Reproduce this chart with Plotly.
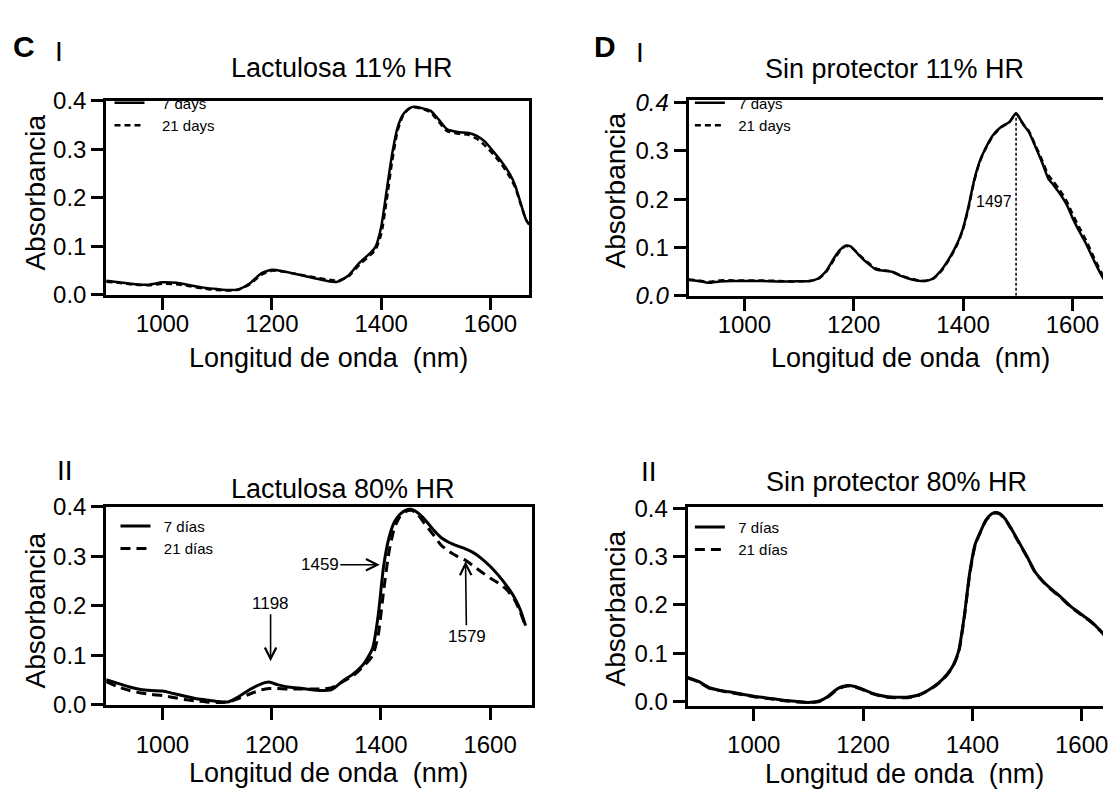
import plotly.graph_objects as go

W, H = 1108, 801
FONT = "Arial, Liberation Sans, sans-serif"

# ---------------- data ----------------
# Panel C-I : Lactulosa 11% HR
ci_nm = [897, 920, 950, 975, 1000, 1025, 1050, 1075, 1100, 1125, 1140, 1160, 1180, 1200, 1220,
         1240, 1260, 1280, 1300, 1320, 1340, 1360, 1380, 1390, 1400, 1410, 1420, 1430, 1440, 1450,
         1460, 1475, 1490, 1505, 1520, 1540, 1560, 1575, 1590, 1605, 1620, 1635, 1645, 1655, 1665, 1671]
ci_7d = [0.029, 0.026, 0.022, 0.021, 0.026, 0.025, 0.020, 0.015, 0.012, 0.010, 0.012, 0.024, 0.044, 0.052, 0.049,
         0.044, 0.039, 0.034, 0.029, 0.027, 0.040, 0.066, 0.086, 0.100, 0.140, 0.215, 0.290, 0.345, 0.372, 0.384,
         0.388, 0.385, 0.380, 0.362, 0.342, 0.336, 0.334, 0.328, 0.316, 0.296, 0.275, 0.250, 0.226, 0.190, 0.155, 0.145]
ci_21d = [0.027, 0.025, 0.021, 0.020, 0.023, 0.022, 0.018, 0.013, 0.010, 0.009, 0.011, 0.022, 0.041, 0.050, 0.048,
          0.044, 0.040, 0.036, 0.032, 0.029, 0.038, 0.062, 0.082, 0.094, 0.125, 0.195, 0.275, 0.338, 0.370, 0.383,
          0.387, 0.384, 0.377, 0.358, 0.338, 0.333, 0.330, 0.322, 0.308, 0.290, 0.270, 0.244, 0.222, 0.188, 0.155, 0.145]

# Panel D-I : Sin protector 11% HR
di_nm = [898, 915, 935, 955, 980, 1000, 1030, 1060, 1090, 1120, 1135, 1150, 1165, 1175, 1185,
         1195, 1210, 1225, 1240, 1255, 1270, 1285, 1300, 1315, 1330, 1345, 1360, 1375, 1390, 1400,
         1410, 1420, 1430, 1440, 1455, 1470, 1485, 1497, 1510, 1520, 1532, 1545, 1556, 1565, 1575,
         1590, 1600, 1612, 1625, 1640, 1656, 1670]
di_7d = [0.033, 0.031, 0.027, 0.030, 0.031, 0.031, 0.031, 0.030, 0.030, 0.031, 0.036, 0.052, 0.080, 0.095, 0.104,
         0.102, 0.084, 0.068, 0.055, 0.052, 0.050, 0.042, 0.036, 0.032, 0.031, 0.036, 0.053, 0.078, 0.110, 0.140,
         0.185, 0.238, 0.277, 0.303, 0.333, 0.350, 0.360, 0.378, 0.355, 0.340, 0.310, 0.275, 0.243, 0.230, 0.215,
         0.188, 0.162, 0.135, 0.108, 0.072, 0.037, 0.012]
di_21d = [0.034, 0.032, 0.029, 0.032, 0.032, 0.032, 0.032, 0.031, 0.030, 0.031, 0.035, 0.050, 0.077, 0.093, 0.103,
          0.101, 0.085, 0.070, 0.057, 0.053, 0.050, 0.043, 0.037, 0.033, 0.031, 0.035, 0.051, 0.076, 0.108, 0.138,
          0.182, 0.236, 0.276, 0.302, 0.332, 0.349, 0.360, 0.377, 0.356, 0.342, 0.313, 0.280, 0.250, 0.237, 0.222,
          0.195, 0.170, 0.143, 0.115, 0.078, 0.042, 0.016]
di_peak_nm = 1497
di_peak_abs = 0.378

# Panel C-II : Lactulosa 80% HR
cii_nm = [897, 920, 940, 960, 980, 1000, 1020, 1040, 1060, 1080, 1100, 1120, 1140, 1160, 1180,
          1195, 1210, 1230, 1250, 1270, 1290, 1310, 1330, 1350, 1370, 1385, 1395, 1405, 1415, 1425,
          1435, 1445, 1455, 1465, 1480, 1495, 1510, 1525, 1540, 1555, 1570, 1585, 1600, 1615, 1630,
          1645, 1655, 1665]
cii_7d = [0.051, 0.043, 0.036, 0.031, 0.029, 0.028, 0.023, 0.018, 0.013, 0.010, 0.007, 0.006, 0.017, 0.031, 0.042,
          0.046, 0.041, 0.036, 0.034, 0.031, 0.029, 0.031, 0.048, 0.063, 0.085, 0.115, 0.180, 0.280, 0.338, 0.370,
          0.385, 0.393, 0.395, 0.390, 0.375, 0.355, 0.338, 0.328, 0.321, 0.315, 0.307, 0.295, 0.280, 0.262, 0.241,
          0.216, 0.193, 0.160]
cii_21d = [0.047, 0.036, 0.029, 0.024, 0.021, 0.019, 0.015, 0.011, 0.008, 0.006, 0.005, 0.006, 0.013, 0.022, 0.030,
           0.033, 0.033, 0.032, 0.032, 0.032, 0.032, 0.035, 0.047, 0.060, 0.080, 0.100, 0.140, 0.230, 0.310, 0.358,
           0.380, 0.390, 0.393, 0.388, 0.366, 0.345, 0.323, 0.310, 0.300, 0.292, 0.280, 0.268, 0.256, 0.246, 0.233,
           0.212, 0.188, 0.158]
cii_marks_nm = [1198, 1398, 1555]          # arrow tips (nm)
cii_marks_abs = [0.088, 0.283, 0.290]      # arrow tips (absorbance)
cii_marks_txt = ["1198", "1459", "1579"]

# Panel D-II : Sin protector 80% HR
dii_nm = [879, 900, 920, 940, 960, 980, 1000, 1020, 1040, 1060, 1080, 1100, 1120, 1135, 1150,
          1160, 1172, 1185, 1200, 1215, 1230, 1245, 1260, 1280, 1300, 1320, 1340, 1355, 1365, 1375,
          1385, 1395, 1405, 1415, 1425, 1435, 1442, 1450, 1460, 1470, 1485, 1500, 1515, 1530, 1545,
          1560, 1580, 1600, 1620, 1640, 1660]
dii_7d = [0.050, 0.041, 0.028, 0.023, 0.019, 0.015, 0.011, 0.008, 0.005, 0.002, 0.000, -0.002, 0.001, 0.010, 0.024,
          0.030, 0.033, 0.031, 0.025, 0.018, 0.013, 0.010, 0.009, 0.009, 0.013, 0.024, 0.040, 0.058, 0.075, 0.105,
          0.175, 0.265, 0.325, 0.352, 0.376, 0.388, 0.391, 0.389, 0.378, 0.360, 0.330, 0.300, 0.268, 0.248, 0.232,
          0.218, 0.197, 0.180, 0.163, 0.140, 0.118]
dii_21d = [0.049, 0.040, 0.027, 0.022, 0.018, 0.014, 0.010, 0.007, 0.004, 0.001, -0.001, -0.002, 0.000, 0.009, 0.022,
           0.029, 0.032, 0.030, 0.024, 0.017, 0.012, 0.009, 0.008, 0.008, 0.012, 0.023, 0.039, 0.057, 0.074, 0.102,
           0.172, 0.262, 0.323, 0.351, 0.375, 0.387, 0.390, 0.388, 0.377, 0.359, 0.329, 0.299, 0.267, 0.247, 0.231,
           0.217, 0.196, 0.179, 0.162, 0.139, 0.117]

x_ticks = [1000, 1200, 1400, 1600]
y_ticks = [0.0, 0.1, 0.2, 0.3, 0.4]
y_ticktext = ["0.0", "0.1", "0.2", "0.3", "0.4"]
y_ticktext_di = ["<i>0.0</i>", "0.1", "0.2", "0.3", "<i>0.4</i>"]

# ---------------- figure ----------------
fig = go.Figure()

NB = "\u00a0"
panels = [
    # (xaxis, yaxis, legend, nm, 7d, 21d, names, dash, width, pad)
    ("x", "y", "legend", ci_nm, ci_7d, ci_21d, ("7 days", "21 days"), "6px,4px", 2.5, 3),
    ("x2", "y2", "legend2", di_nm, di_7d, di_21d, ("7 days", "21 days"), "6px,4px", 2.5, 2),
    ("x3", "y3", "legend3", cii_nm, cii_7d, cii_21d, ("7 días", "21 días"), "10px,6px", 3, 2),
    ("x4", "y4", "legend4", dii_nm, dii_7d, dii_21d, ("7 días", "21 días"), "10px,6px", 3, 2),
]
for xa, ya, lg, nm, a7, a21, names, dash, lw, pad in panels:
    fig.add_trace(go.Scatter(x=nm, y=a7, mode="lines", name=NB * pad + names[0], xaxis=xa, yaxis=ya, legend=lg,
                             line=dict(color="black", width=lw, shape="spline", smoothing=0.6)))
    fig.add_trace(go.Scatter(x=nm, y=a21, mode="lines", name=NB * pad + names[1], xaxis=xa, yaxis=ya, legend=lg,
                             line=dict(color="black", width=lw, dash=dash, shape="spline", smoothing=0.6)))

# vertical marker at the D-I peak
fig.add_trace(go.Scatter(x=[di_peak_nm, di_peak_nm], y=[0, di_peak_abs], mode="lines", xaxis="x2", yaxis="y2",
                         showlegend=False, line=dict(color="black", width=1.5, dash="3px,2px")))


def px_x(p):
    return p / W


def px_y(p):
    return 1 - p / H


axis_common = dict(showline=True, linecolor="black", linewidth=3, ticks="outside", ticklen=12, tickwidth=3,
                   tickcolor="black", showgrid=False, zeroline=False,
                   tickfont=dict(family=FONT, size=24, color="black"))

def xax(domain, rng, mirror, anchor, standoff):
    return dict(axis_common, domain=domain, range=rng, tickvals=x_ticks, mirror=mirror, anchor=anchor,
                ticklabelstandoff=standoff, ticklabeloverflow="allow")

def yax(domain, rng, mirror, anchor, ticktext):
    return dict(axis_common, domain=domain, range=rng, tickvals=y_ticks, ticktext=ticktext, mirror=mirror,
                anchor=anchor)

leg_common = dict(xanchor="left", yanchor="top", bgcolor="rgba(0,0,0,0)", borderwidth=0,
                  font=dict(family=FONT, size=15, color="black"), tracegroupgap=0, itemwidth=30)

fig.update_layout(
    width=W, height=H, margin=dict(l=0, r=0, t=0, b=0),
    paper_bgcolor="white", plot_bgcolor="white",
    font=dict(family=FONT, color="black"),
    xaxis=xax([px_x(106.7), px_x(531.7)], [897, 1671], True, "y", -7),
    yaxis=yax([px_y(290.7), px_y(90)], [0, 0.4], True, "x", y_ticktext),
    xaxis2=xax([px_x(691.7), 1.0], [898, 1656], True, "y2", -7),
    yaxis2=yax([px_y(291.7), px_y(89.3)], [0, 0.405], False, "x2", y_ticktext_di),
    xaxis3=xax([px_x(106.7), px_x(534)], [897, 1676], True, "y3", 4),
    yaxis3=yax([px_y(715), px_y(510)], [0, 0.4], True, "x3", y_ticktext),
    xaxis4=xax([px_x(690.7), 1.0], [879, 1639], True, "y4", 3),
    yaxis4=yax([px_y(716), px_y(510.5)], [-0.009, 0.402], False, "x4", y_ticktext),
    legend=dict(leg_common, x=px_x(110), y=px_y(75)),
    legend2=dict(leg_common, x=px_x(693), y=px_y(75)),
    legend3=dict(leg_common, x=px_x(116), y=px_y(513)),
    legend4=dict(leg_common, x=px_x(693), y=px_y(514)),
)

ann = []

def text_px(txt, x, y, size, bold=False, angle=0):
    ann.append(dict(text=("<b>%s</b>" % txt) if bold else txt, x=px_x(x), y=px_y(y), xref="paper",
                    yref="paper", xanchor="center", yanchor="middle", showarrow=False, textangle=angle,
                    font=dict(family=FONT, size=size, color="black")))

# panel letters
text_px("C", 24, 34, 30, bold=True)
text_px("I", 59, 39, 28)
text_px("D", 608, 34, 30, bold=True)
text_px("I", 643, 40, 28)
text_px("II", 65, 472, 28)
text_px("II", 652, 473, 28)
# titles
text_px("Lactulosa 11% HR", 344, 56, 27)
text_px("Sin protector 11% HR", 899, 56.5, 27)
text_px("Lactulosa 80% HR", 345, 492, 27)
text_px("Sin protector 80% HR", 901, 484.5, 27)
# axis titles
for xc, yc in [(330, 356), (915, 356), (330, 785), (909, 787)]:
    text_px("Longitud de onda  (nm)", xc, yc, 27)
for xc, yc in [(36, 185), (618.5, 183), (35.5, 617), (618, 615)]:
    text_px("Absorbancia", xc, yc, 28, angle=-90)

# C-II arrows
offsets = [(0, -58), (-60, 0), (1, 75)]
for (nmv, av, t, (ax, ay)) in zip(cii_marks_nm, cii_marks_abs, cii_marks_txt, offsets):
    ann.append(dict(text=t, x=nmv, y=av, xref="x3", yref="y3", showarrow=True, ax=ax, ay=ay,
                    arrowhead=5, arrowsize=1.4, arrowwidth=1.6, arrowcolor="black", standoff=0,
                    font=dict(family=FONT, size=17, color="black")))

# D-I peak label
ann.append(dict(text=str(di_peak_nm), x=di_peak_nm, y=0.195, xref="x2", yref="y2", showarrow=False,
                xanchor="right", yanchor="middle", xshift=-2,
                font=dict(family=FONT, size=16, color="black")))

fig.update_layout(annotations=ann)

fig.write_html("out.html")
